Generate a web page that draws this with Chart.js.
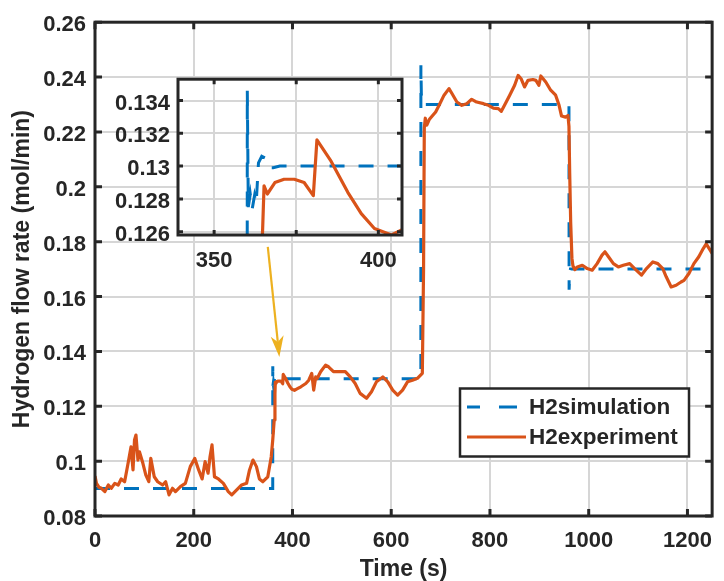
<!DOCTYPE html>
<html><head><meta charset="utf-8">
<script src="https://cdn.jsdelivr.net/npm/chart.js@4.4.1/dist/chart.umd.min.js"></script>
<style>
html,body{margin:0;padding:0;background:#fff;overflow:hidden;}
#wrap{position:relative;width:724px;height:581px;}
#main{position:absolute;left:0;top:0;}
#inset{position:absolute;left:100px;top:58px;}
</style></head><body>
<div id="wrap"><canvas id="main" width="724" height="581"></canvas><canvas id="inset" width="320" height="222"></canvas></div>
<script>
// ---------------- DATA ----------------
const simLabel = 'H2simulation';
const expLabel = 'H2experiment';

const tSim  = [0, 360, 360.1, 360.4, 361, 361.6, 362.3, 362.8, 363.5, 364.5, 365.5, 366.5, 368, 370,
               660, 660.1, 661, 662, 663.5, 665, 960, 960.3, 961.5, 963, 1250];
const h2Sim = [0.09, 0.09, 0.1346, 0.1275, 0.1283, 0.1274, 0.1282, 0.1277, 0.1302, 0.1306, 0.1305, 0.1299, 0.1299, 0.13,
               0.13, 0.2443, 0.2340, 0.2308, 0.2296, 0.23, 0.23, 0.1625, 0.1680, 0.17, 0.17];

const tExp = [0, 3, 8, 13, 20, 27, 33, 40, 47, 53, 60, 67, 73, 77, 80, 83, 87, 90, 97, 103,
  109, 113, 120, 127, 137, 143, 150, 157, 163, 173, 183, 193, 202, 210, 217, 223, 229, 233, 237, 242,
  250, 260, 270, 277, 287, 297, 307, 313, 320, 327, 333, 340, 350, 357, 360, 363, 364.5, 365.2, 366.2, 368.5,
  371.3, 374.4, 377.4, 380.2, 381.3, 385.6, 390.7, 394.8, 398.8, 404, 410, 417, 427, 433, 439, 443, 447, 450, 457, 467,
  473, 483, 497, 507, 517, 527, 537, 550, 560, 570, 583, 593, 603, 613, 623, 633, 643, 653, 663, 665.5,
  667, 669, 672, 677, 683, 690, 697, 707, 717, 723, 733, 743, 753, 763, 773, 787, 797, 807, 817, 823,
  830, 840, 850, 857, 863, 870, 877, 887, 893, 899, 903, 913, 923, 933, 940, 945, 953, 958, 960, 961.5,
  963.5, 966, 968, 972, 977, 987, 997, 1007, 1017, 1027, 1033, 1040, 1050, 1060, 1070, 1083, 1093, 1107, 1117, 1130,
  1140, 1150, 1157, 1167, 1177, 1187, 1193, 1203, 1213, 1223, 1232, 1238, 1245, 1250];
const h2Exp = [0.0946, 0.0919, 0.0905, 0.0901, 0.0889, 0.0913, 0.0901, 0.0919, 0.0913, 0.0935, 0.0925, 0.0992, 0.1052, 0.0968, 0.1077, 0.1095, 0.1004, 0.1034, 0.0992, 0.0949,
  0.0925, 0.1010, 0.0943, 0.0925, 0.0913, 0.0925, 0.0877, 0.0901, 0.0889, 0.0907, 0.0919, 0.0980, 0.1010, 0.0968, 0.0935, 0.0998, 0.0956, 0.1016, 0.1059, 0.0943,
  0.0935, 0.0919, 0.0889, 0.0877, 0.0895, 0.0913, 0.0919, 0.0968, 0.1004, 0.0980, 0.0935, 0.0925, 0.0943, 0.1016, 0.1077, 0.1150, 0.1245, 0.1288, 0.1283, 0.1290,
  0.1292, 0.1292, 0.1290, 0.1282, 0.1316, 0.1303, 0.1284, 0.1271, 0.1262, 0.1258, 0.1264, 0.1271, 0.1283, 0.1295, 0.1320, 0.1259, 0.1307, 0.1301, 0.1326, 0.1350,
  0.1344, 0.1326, 0.1326, 0.1326, 0.1307, 0.1283, 0.1247, 0.1229, 0.1253, 0.1289, 0.1307, 0.1289, 0.1259, 0.1241, 0.1259, 0.1289, 0.1295, 0.1302, 0.1320, 0.1700,
  0.2215, 0.2250, 0.2225, 0.2245, 0.2258, 0.2273, 0.2297, 0.2334, 0.2358, 0.2340, 0.2309, 0.2297, 0.2303, 0.2319, 0.2309, 0.2303, 0.2297, 0.2287, 0.2285, 0.2275,
  0.2299, 0.2334, 0.2370, 0.2406, 0.2394, 0.2364, 0.2388, 0.2391, 0.2388, 0.2370, 0.2404, 0.2382, 0.2352, 0.2334, 0.2297, 0.2258, 0.2254, 0.2260, 0.2220, 0.2050,
  0.1870, 0.1740, 0.1712, 0.1698, 0.1708, 0.1714, 0.1702, 0.1696, 0.1720, 0.1751, 0.1763, 0.1745, 0.1720, 0.1708, 0.1714, 0.1720, 0.1702, 0.1678, 0.1702, 0.1726,
  0.1720, 0.1702, 0.1672, 0.1635, 0.1641, 0.1653, 0.1659, 0.1684, 0.1720, 0.1745, 0.1775, 0.1792, 0.1772, 0.1757];

const xTicks = [0, 200, 400, 600, 800, 1000, 1200];
const xTickLabels = ['0', '200', '400', '600', '800', '1000', '1200'];
const yTicks = [0.08, 0.10, 0.12, 0.14, 0.16, 0.18, 0.20, 0.22, 0.24, 0.26];
const yTickLabels = ['0.08', '0.1', '0.12', '0.14', '0.16', '0.18', '0.2', '0.22', '0.24', '0.26'];

const insetXTicks = [350, 375, 400];
const insetXTickLabels = ['350', '', '400'];
const insetYTicks = [0.126, 0.128, 0.130, 0.132, 0.134];
const insetYTickLabels = ['0.126', '0.128', '0.13', '0.132', '0.134'];

const xTitle = 'Time (s)';
const yTitle = 'Hydrogen flow rate (mol/min)';

// arrow annotation (data coordinates): from -> to
const arrowFrom = [350, 0.1781];
const arrowTo = [373.4, 0.1380];

// ---------------- STYLE ----------------
const FONT = "'Liberation Sans', Arial, Helvetica, sans-serif";
const INK = '#262626';
const BLUE = '#0072BD';
const ORANGE = '#D95319';
const GOLD = '#EDB120';
const GRID = '#d6d6d6';
Chart.defaults.font.family = FONT;
Chart.defaults.font.weight = 'bold';
Chart.defaults.color = INK;

function makeSets() {
  return [
    { label: simLabel, data: tSim.map((t, i) => ({ x: t, y: h2Sim[i] })),
      borderColor: BLUE, borderWidth: 3, borderDash: [15, 14], pointRadius: 0, tension: 0,
      fill: false, order: 1, clip: 0, borderCapStyle: 'butt' },
    { label: expLabel, data: tExp.map((t, i) => ({ x: t, y: h2Exp[i] })),
      borderColor: ORANGE, borderWidth: 3.2, pointRadius: 0, tension: 0,
      fill: false, order: 0, clip: 0, borderJoinStyle: 'round' }
  ];
}

function framePlugin(tickLen, lw) {
  return {
    id: 'frame',
    beforeDraw(chart) {
      const { ctx, chartArea: a } = chart;
      ctx.save(); ctx.fillStyle = '#fff';
      ctx.fillRect(a.left, a.top, a.right - a.left, a.bottom - a.top);
      ctx.restore();
    },
    afterDatasetsDraw(chart) {
      const { ctx, chartArea: a, scales: { x, y } } = chart;
      ctx.save();
      ctx.strokeStyle = INK; ctx.lineWidth = lw; ctx.lineCap = 'butt';
      ctx.beginPath();
      x.ticks.forEach(t => {
        const p = x.getPixelForValue(t.value);
        ctx.moveTo(p, a.bottom); ctx.lineTo(p, a.bottom - tickLen);
        ctx.moveTo(p, a.top); ctx.lineTo(p, a.top + tickLen);
      });
      y.ticks.forEach(t => {
        const p = y.getPixelForValue(t.value);
        ctx.moveTo(a.left, p); ctx.lineTo(a.left + tickLen, p);
        ctx.moveTo(a.right, p); ctx.lineTo(a.right - tickLen, p);
      });
      ctx.stroke();
      ctx.strokeRect(a.left, a.top, a.right - a.left, a.bottom - a.top);
      ctx.restore();
    }
  };
}

const overlayPlugin = {
  id: 'overlay',
  afterDraw(chart) {
    const { ctx, scales: { x, y } } = chart;
    // arrow
    const x0 = x.getPixelForValue(arrowFrom[0]), y0 = y.getPixelForValue(arrowFrom[1]);
    const x1 = x.getPixelForValue(arrowTo[0]), y1 = y.getPixelForValue(arrowTo[1]);
    const len = Math.hypot(x1 - x0, y1 - y0);
    const dx = (x1 - x0) / len, dy = (y1 - y0) / len;
    const nx = -dy, ny = dx;
    const hl = 21, hw = 6.5, notch = 15;
    ctx.save();
    ctx.strokeStyle = GOLD; ctx.fillStyle = GOLD; ctx.lineWidth = 2.2;
    ctx.beginPath(); ctx.moveTo(x0, y0); ctx.lineTo(x1 - dx * notch, y1 - dy * notch); ctx.stroke();
    ctx.beginPath();
    ctx.moveTo(x1, y1);
    ctx.lineTo(x1 - dx * hl + nx * hw, y1 - dy * hl + ny * hw);
    ctx.lineTo(x1 - dx * notch, y1 - dy * notch);
    ctx.lineTo(x1 - dx * hl - nx * hw, y1 - dy * hl - ny * hw);
    ctx.closePath(); ctx.fill();
    ctx.restore();

    // legend
    const L = 460, T = 388.5, W = 229, H = 68;
    ctx.save();
    ctx.fillStyle = '#fff'; ctx.fillRect(L, T, W, H);
    ctx.strokeStyle = INK; ctx.lineWidth = 2.5; ctx.strokeRect(L, T, W, H);
    const ds = chart.data.datasets;
    const rows = [T + 18.5, T + 48.5];
    ds.forEach((d, i) => {
      const yy = rows[i];
      ctx.strokeStyle = d.borderColor; ctx.lineWidth = d.borderWidth;
      ctx.setLineDash(d.borderDash ? [13, 19, 18, 20] : []);
      ctx.beginPath(); ctx.moveTo(467, yy); ctx.lineTo(d.borderDash ? 518 : 526, yy); ctx.stroke();
      ctx.setLineDash([]);
      ctx.fillStyle = INK; ctx.font = "bold 22.5px " + FONT;
      ctx.textBaseline = 'middle'; ctx.textAlign = 'left';
      ctx.fillText(d.label, 529, yy + 1);
    });
    ctx.restore();
  }
};

// ---------------- MAIN CHART ----------------
new Chart(document.getElementById('main'), {
  type: 'line',
  data: { datasets: makeSets() },
  options: {
    responsive: false, animation: false, devicePixelRatio: 1,
    layout: { padding: { top: 22, right: 2, left: 0, bottom: 0 } },
    plugins: { legend: { display: false }, tooltip: { enabled: false } },
    scales: {
      x: {
        type: 'linear', min: 0, max: 1250,
        afterBuildTicks: s => { s.ticks = xTicks.map(v => ({ value: v })); },
        afterFit: s => { s.height = 65; },
        ticks: { callback: (v, i) => xTickLabels[i], font: { size: 22, weight: 'bold' }, padding: 12, maxRotation: 0, autoSkip: false, color: INK },
        grid: { color: GRID, lineWidth: 2, drawTicks: false },
        border: { display: false },
        title: { display: true, text: xTitle, color: INK, font: { size: 23, weight: 'bold', lineHeight: 1 }, padding: { top: 0, bottom: 0 } }
      },
      y: {
        type: 'linear', min: 0.08, max: 0.26,
        afterBuildTicks: s => { s.ticks = yTicks.map(v => ({ value: v })); },
        afterFit: s => { s.width = 95; },
        ticks: { callback: (v, i) => yTickLabels[i], font: { size: 22, weight: 'bold' }, padding: 9, labelOffset: 3, autoSkip: false, color: INK },
        grid: { color: GRID, lineWidth: 2, drawTicks: false },
        border: { display: false },
        title: { display: true, text: yTitle, color: INK, font: { size: 23, weight: 'bold', lineHeight: 1 }, padding: { top: 11, bottom: 0 } }
      }
    }
  },
  plugins: [framePlugin(7, 3), overlayPlugin]
});

// ---------------- INSET CHART ----------------
new Chart(document.getElementById('inset'), {
  type: 'line',
  data: { datasets: makeSets() },
  options: {
    responsive: false, animation: false, devicePixelRatio: 1,
    layout: { padding: { top: 10, right: 18, left: 0, bottom: 0 } },
    plugins: { legend: { display: false }, tooltip: { enabled: false } },
    scales: {
      x: {
        type: 'linear', min: 339, max: 407.2,
        afterBuildTicks: s => { s.ticks = insetXTicks.map(v => ({ value: v })); },
        afterFit: s => { s.height = 45; },
        ticks: { callback: (v, i) => insetXTickLabels[i], font: { size: 22, weight: 'bold' }, padding: 12.5, maxRotation: 0, autoSkip: false, color: INK },
        grid: { color: GRID, lineWidth: 2, drawTicks: false },
        border: { display: false }
      },
      y: {
        type: 'linear', min: 0.1258, max: 0.1353,
        afterBuildTicks: s => { s.ticks = insetYTicks.map(v => ({ value: v })); },
        afterFit: s => { s.width = 78; },
        ticks: { callback: (v, i) => insetYTickLabels[i], font: { size: 22, weight: 'bold' }, padding: 8, labelOffset: 3, autoSkip: false, color: INK },
        grid: { color: GRID, lineWidth: 2, drawTicks: false },
        border: { display: false }
      }
    }
  },
  plugins: [framePlugin(5, 3)]
});
</script>
</body></html>
